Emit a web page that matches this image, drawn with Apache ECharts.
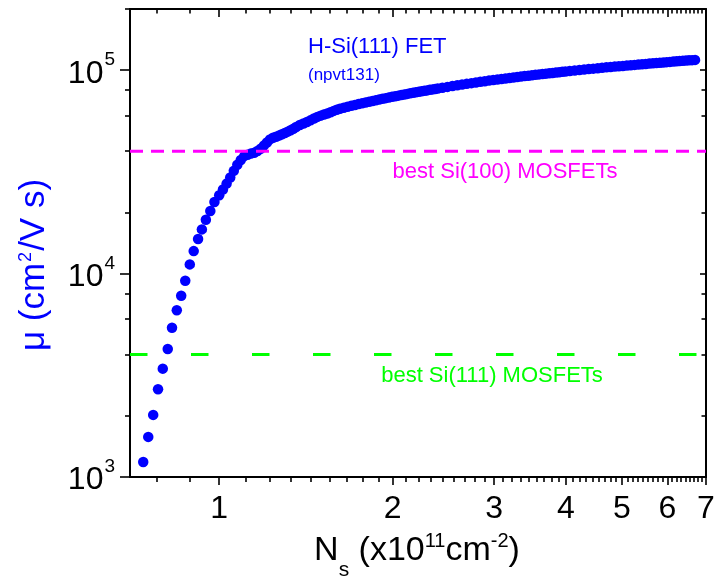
<!DOCTYPE html>
<html>
<head>
<meta charset="utf-8">
<script src="https://cdn.jsdelivr.net/npm/echarts@6/dist/echarts.min.js"></script>
<style>
  html, body { margin: 0; padding: 0; background: #fff; }
  #chart { width: 715px; height: 579px; }
</style>
</head>
<body>
<div id="chart"></div>
<script>
// Mobility vs. sheet carrier density for the H-Si(111) FET, sample npvt131.
// Sheet density N_s in units of 1e11 cm^-2
const densities = [
  0.738, 0.753, 0.768, 0.783, 0.798, 0.814, 0.828, 0.844, 0.859, 0.873,
  0.889, 0.903, 0.919, 0.933, 0.948, 0.965, 0.981,
  1.000, 1.015, 1.030, 1.045, 1.060, 1.075, 1.090, 1.105, 1.120, 1.135,
  1.150, 1.165, 1.180, 1.195, 1.210, 1.225, 1.240, 1.255, 1.270, 1.285,
  1.300, 1.315, 1.330, 1.345, 1.360, 1.380, 1.400, 1.420, 1.440, 1.460,
  1.480, 1.500, 1.520, 1.540, 1.560, 1.580, 1.600, 1.620,
  1.645, 1.670, 1.695, 1.720, 1.745, 1.770, 1.795, 1.820, 1.845, 1.870,
  1.895, 1.920, 1.945, 1.970, 1.995, 2.020, 2.045, 2.070, 2.095, 2.120,
  2.145, 2.170, 2.195, 2.220, 2.245, 2.270, 2.295, 2.320, 2.345, 2.370, 2.395,
  2.44, 2.49, 2.54, 2.59, 2.64, 2.69, 2.74, 2.79, 2.84, 2.89,
  2.94, 2.99, 3.04, 3.09, 3.14, 3.19, 3.24, 3.29, 3.34, 3.39,
  3.44, 3.49, 3.54, 3.59, 3.64, 3.69, 3.74, 3.79, 3.84, 3.89, 3.94, 3.99,
  4.06, 4.14, 4.22, 4.30, 4.38, 4.46, 4.54, 4.62, 4.70, 4.78,
  4.86, 4.94, 5.02, 5.10, 5.18, 5.26, 5.34, 5.42, 5.50, 5.58,
  5.66, 5.74, 5.82, 5.90, 5.98, 6.06, 6.14, 6.22, 6.30, 6.38,
  6.46, 6.54, 6.62, 6.70
];
// Mobility in cm^2/(V s)
const mobilities = [
  1185, 1575, 2020, 2700, 3410, 4260, 5420, 6600, 7780, 9220,
  11100, 12900, 14800, 16500, 18400, 20300, 22500,
  24300, 25900, 27700, 29700, 32000, 34300, 36200, 37800, 38400, 38900,
  39300, 40100, 41100, 42600, 44100, 45700, 46600, 47100, 47700, 48400,
  49100, 49900, 50700, 51600, 52600, 53800, 54700, 55600, 56700, 57900,
  58950, 59800, 60600, 61300, 62200, 63100, 63900, 64700,
  65400, 66100, 66800, 67500, 68200, 68800, 69400, 70000, 70600, 71200,
  71800, 72400, 72900, 73500, 74000, 74500, 75000, 75500, 76000, 76500,
  77000, 77400, 77900, 78300, 78800, 79200, 79600, 80100, 80500, 80900, 81300,
  82000, 82800, 83600, 84300, 85000, 85700, 86400, 87100, 87700, 88300,
  88900, 89500, 90000, 90500, 91000, 91600, 92100, 92600, 93100, 93600,
  94000, 94500, 94900, 95400, 95800, 96200, 96600, 97000, 97400, 97800, 98200, 98600,
  99100, 99700, 100300, 100800, 101300, 101800, 102300, 102800, 103300, 103700,
  104200, 104600, 105000, 105400, 105800, 106200, 106600, 107000, 107400, 107800,
  108200, 108500, 108900, 109200, 109600, 109900, 110300, 110600, 110900, 111200,
  111500, 111800, 112100, 112400
];

// Reference mobilities of conventional devices
const bestSi100 = 40000;
const bestSi111 = 4000;

// Axis ranges and tick labels
const xRange = [0.7, 7];
const yRange = [1e3, 2e5];
const xTickLabels = [1, 2, 3, 4, 5, 6, 7];
const yTickExponents = [3, 4, 5];

const FONT = '"Liberation Sans", Arial, Helvetica, sans-serif';
const log = Math.log10;

// Both axes are logarithmic: coordinates are plotted as log10 values.
const lx = [log(xRange[0]), log(xRange[1])];
const ly = [log(yRange[0]), log(yRange[1])];

const xMajor = xTickLabels.map(log);
const xMinor = [];
for (let k = 0; k < 7; k++) {
  for (let j = 1; j <= 8; j++) {
    const v = k + j / 9;
    if (v >= xRange[0] && v <= xRange[1]) xMinor.push(log(v));
  }
}
const yMajor = yTickExponents.slice();
const yMinor = [];
for (let e = 3; e <= 5; e++) {
  for (const m of [2, 4, 6, 8]) {
    const v = m * Math.pow(10, e);
    if (v >= yRange[0] && v <= yRange[1]) yMinor.push(log(v));
  }
}

const points = densities.map((n, i) => [log(n), log(mobilities[i])]);

const axisLineStyle = { color: '#000', width: 2 };
const tickStyle = { color: '#000', width: 1.6 };

function xAxisDef(position, ticks, len, inside, withLabels, withLine) {
  return {
    type: 'value', position, min: lx[0], max: lx[1],
    axisLine: { show: withLine, onZero: false, lineStyle: axisLineStyle },
    axisTick: { show: true, inside, length: len, customValues: ticks, lineStyle: tickStyle },
    axisLabel: withLabels ? {
      show: true, customValues: ticks, margin: 16, color: '#000',
      fontSize: 32, fontFamily: FONT,
      formatter: v => String(Math.round(Math.pow(10, v)))
    } : { show: false },
    splitLine: { show: false }
  };
}

// Superscripts are placed with top alignment plus a top padding offset.
function yAxisDef(position, ticks, len, inside, withLabels, withLine) {
  return {
    type: 'value', position, min: ly[0], max: ly[1],
    axisLine: { show: withLine, onZero: false, lineStyle: axisLineStyle },
    axisTick: { show: true, inside, length: len, customValues: ticks, lineStyle: tickStyle },
    axisLabel: withLabels ? {
      show: true, customValues: ticks, margin: 15, color: '#000',
      formatter: v => '{b|10}{s|' + Math.round(v) + '}',
      rich: {
        b: { fontSize: 32, fontFamily: FONT, color: '#000', padding: [7, 0, 0, 0], verticalAlign: 'top' },
        s: { fontSize: 19, fontFamily: FONT, color: '#000', padding: [0, 0, 0, 1], verticalAlign: 'top' }
      }
    } : { show: false },
    splitLine: { show: false }
  };
}

const chart = echarts.init(document.getElementById('chart'), null, { renderer: 'canvas' });

chart.setOption({
  animation: false,
  backgroundColor: '#fff',
  grid: { left: 130, top: 9, width: 576, height: 468, containLabel: false, outerBoundsMode: 'none' },
  xAxis: [
    xAxisDef('bottom', xMajor, 8, false, true, true),
    xAxisDef('bottom', xMinor, 5, false, false, false),
    xAxisDef('top', xMajor, 8, true, false, true),
    xAxisDef('top', xMinor, 4.5, true, false, false)
  ],
  yAxis: [
    yAxisDef('left', yMajor, 10, false, true, true),
    yAxisDef('left', yMinor, 5, false, false, false),
    yAxisDef('right', yMajor, 6, true, false, true),
    yAxisDef('right', yMinor, 4.5, true, false, false)
  ],
  series: [
    {
      name: 'H-Si(111) FET',
      type: 'scatter',
      xAxisIndex: 0, yAxisIndex: 0,
      symbol: 'circle', symbolSize: 10.5,
      itemStyle: { color: '#0000ff', opacity: 1 },
      silent: true,
      data: points
    },
    {
      name: 'best Si(100) MOSFETs',
      type: 'line',
      xAxisIndex: 0, yAxisIndex: 0,
      symbol: 'none', silent: true,
      lineStyle: { color: '#ff00ff', width: 3, type: [13, 8] },
      data: [[lx[0], log(bestSi100)], [lx[1], log(bestSi100)]]
    },
    {
      name: 'best Si(111) MOSFETs',
      type: 'line',
      xAxisIndex: 0, yAxisIndex: 0,
      symbol: 'none', silent: true,
      lineStyle: { color: '#00ff00', width: 3, type: [17.5, 43.5] },
      data: [[lx[0], log(bestSi111)], [lx[1], log(bestSi111)]]
    }
  ],
  graphic: [
    {
      type: 'text', x: 34, y: 265, rotation: Math.PI / 2, silent: true,
      style: {
        text: '{a|\u03bc (cm}{p|2}{a|/V s)}',
        align: 'center', verticalAlign: 'middle',
        rich: {
          a: { fontSize: 35, fontFamily: FONT, fill: '#0000ff', padding: [0, 0, 0, 0], verticalAlign: 'top' },
          p: { fontSize: 18, fontFamily: FONT, fill: '#0000ff', padding: [1, 1, 0, 1], verticalAlign: 'top' }
        }
      }
    },
    {
      type: 'text', x: 417, y: 530, silent: true,
      style: {
        text: '{a|N}{s|s}{a| (x10}{p|11}{a|cm}{p|-2}{a|)}',
        align: 'center', verticalAlign: 'top',
        rich: {
          a: { fontSize: 34, fontFamily: FONT, fill: '#000', padding: [4, 0, 0, 0], verticalAlign: 'top' },
          s: { fontSize: 21, fontFamily: FONT, fill: '#000', padding: [30, 0, 0, 0], verticalAlign: 'top' },
          p: { fontSize: 20, fontFamily: FONT, fill: '#000', padding: [1, 0, 0, 0], verticalAlign: 'top' }
        }
      }
    },
    {
      type: 'text', x: 308, y: 47, silent: true,
      style: { text: 'H-Si(111) FET', fontSize: 22, fontFamily: FONT, fill: '#0000ff', align: 'left', verticalAlign: 'middle' }
    },
    {
      type: 'text', x: 308, y: 75, silent: true,
      style: { text: '(npvt131)', fontSize: 17, fontFamily: FONT, fill: '#0000ff', align: 'left', verticalAlign: 'middle' }
    },
    {
      type: 'text', x: 505, y: 172, silent: true,
      style: { text: 'best Si(100) MOSFETs', fontSize: 22, fontFamily: FONT, fill: '#ff00ff', align: 'center', verticalAlign: 'middle' }
    },
    {
      type: 'text', x: 492, y: 376, silent: true,
      style: { text: 'best Si(111) MOSFETs', fontSize: 22, fontFamily: FONT, fill: '#00ff00', align: 'center', verticalAlign: 'middle' }
    }
  ]
});
</script>
</body>
</html>
